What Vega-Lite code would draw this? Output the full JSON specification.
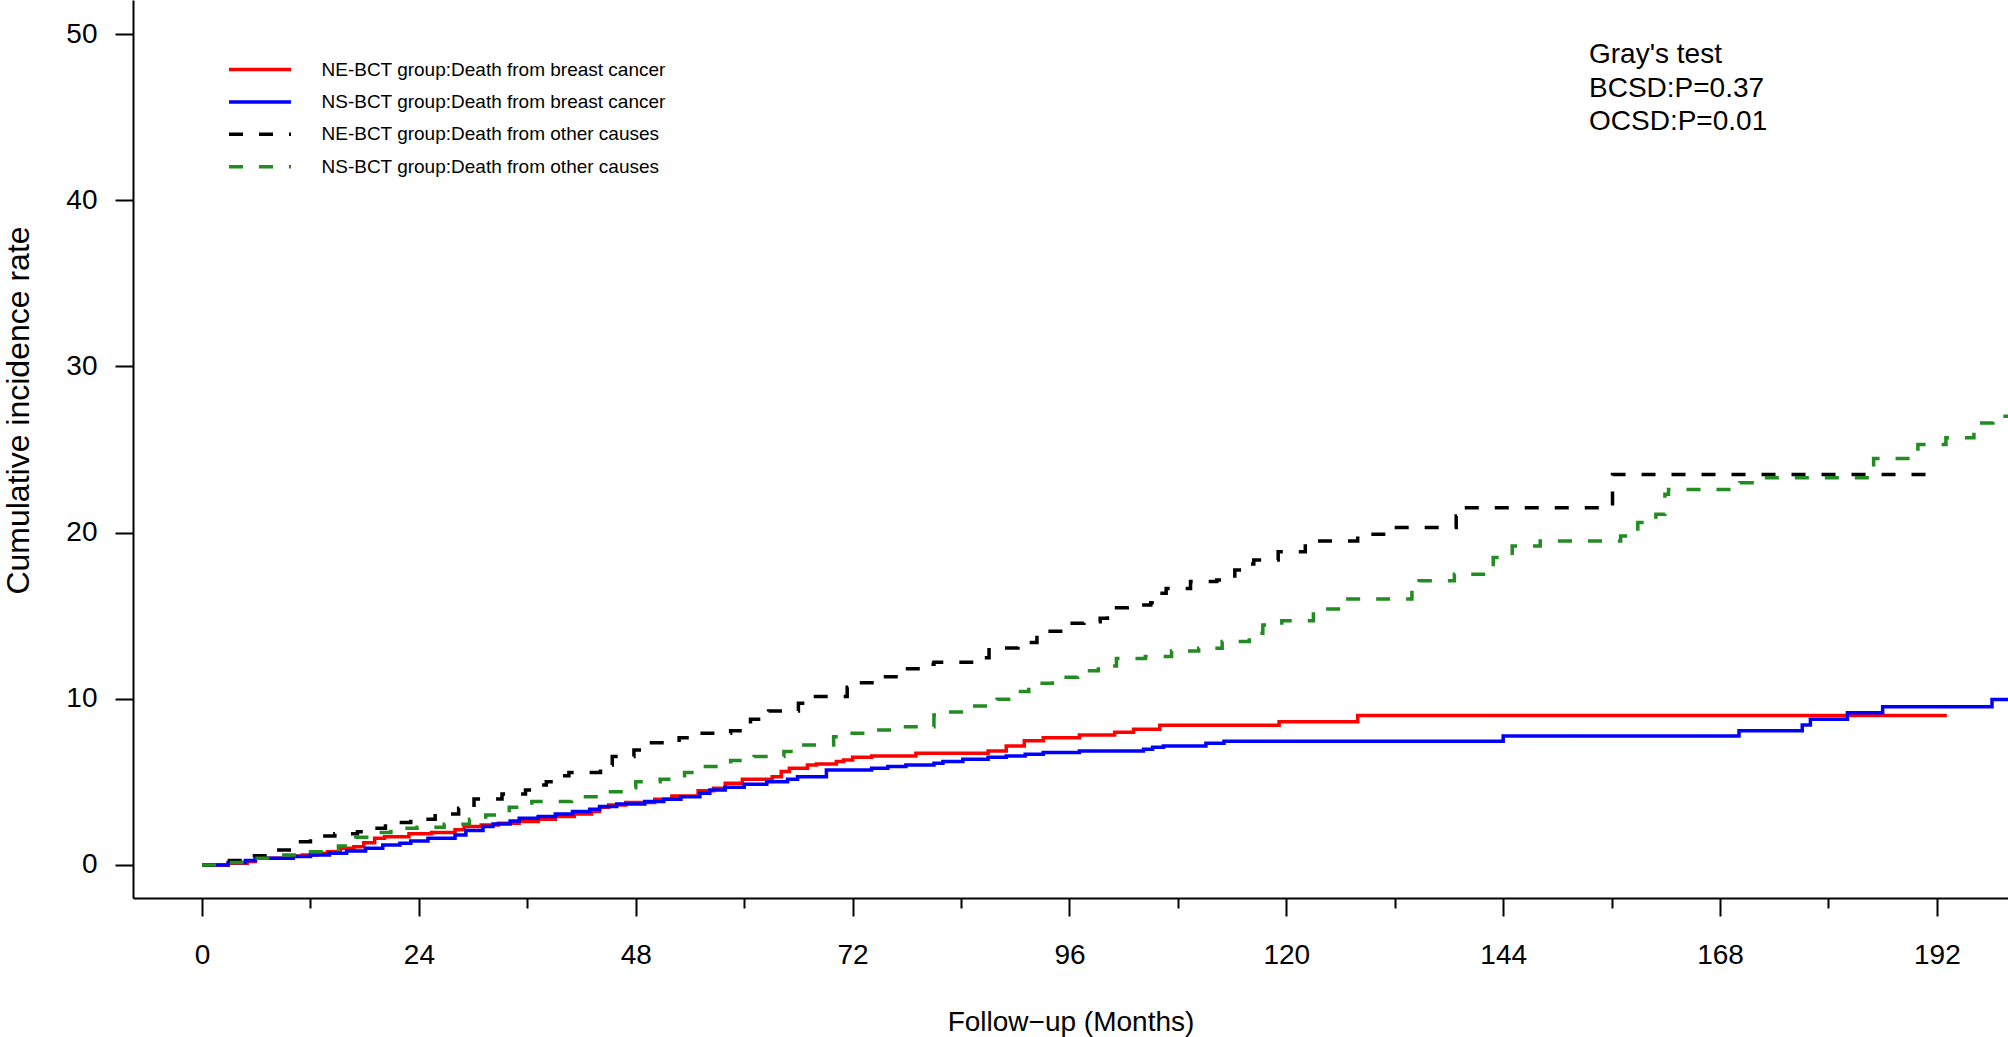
{
  "$schema": "https://vega.github.io/schema/vega-lite/v6.json",
  "description": "Cumulative incidence of death from breast cancer and from other causes, NE-BCT vs NS-BCT groups.",
  "width": 1875,
  "height": 898,
  "autosize": {"type": "none"},
  "padding": {"left": 133, "top": 0, "right": 0, "bottom": 139},
  "background": "white",
  "config": {
    "view": {"stroke": null},
    "font": "Liberation Sans",
    "axis": {
      "grid": false,
      "domainColor": "black",
      "domainWidth": 2,
      "tickColor": "black",
      "tickWidth": 2,
      "labelColor": "black",
      "labelFontSize": 28,
      "labelFont": "Liberation Sans",
      "titleColor": "black",
      "titleFontSize": 28,
      "titleFont": "Liberation Sans",
      "titleFontWeight": "normal",
      "labelFlush": false,
      "labelOverlap": false
    }
  },
  "layer": [
    {
      "data": {
        "values": [
          {"group": "NE-BCT group:Death from breast cancer", "month": 0, "rate": 0},
          {"group": "NE-BCT group:Death from breast cancer", "month": 2.9, "rate": 0.1},
          {"group": "NE-BCT group:Death from breast cancer", "month": 5.0, "rate": 0.2},
          {"group": "NE-BCT group:Death from breast cancer", "month": 5.9, "rate": 0.4},
          {"group": "NE-BCT group:Death from breast cancer", "month": 10.1, "rate": 0.54},
          {"group": "NE-BCT group:Death from breast cancer", "month": 11.1, "rate": 0.6},
          {"group": "NE-BCT group:Death from breast cancer", "month": 12.8, "rate": 0.7},
          {"group": "NE-BCT group:Death from breast cancer", "month": 13.9, "rate": 0.8},
          {"group": "NE-BCT group:Death from breast cancer", "month": 15.3, "rate": 1.0},
          {"group": "NE-BCT group:Death from breast cancer", "month": 16.8, "rate": 1.1},
          {"group": "NE-BCT group:Death from breast cancer", "month": 17.9, "rate": 1.34},
          {"group": "NE-BCT group:Death from breast cancer", "month": 19.1, "rate": 1.6},
          {"group": "NE-BCT group:Death from breast cancer", "month": 20.2, "rate": 1.7},
          {"group": "NE-BCT group:Death from breast cancer", "month": 22.9, "rate": 1.87},
          {"group": "NE-BCT group:Death from breast cancer", "month": 25.4, "rate": 1.95},
          {"group": "NE-BCT group:Death from breast cancer", "month": 28.0, "rate": 2.11},
          {"group": "NE-BCT group:Death from breast cancer", "month": 29.0, "rate": 2.31},
          {"group": "NE-BCT group:Death from breast cancer", "month": 30.9, "rate": 2.41},
          {"group": "NE-BCT group:Death from breast cancer", "month": 32.8, "rate": 2.51},
          {"group": "NE-BCT group:Death from breast cancer", "month": 35.1, "rate": 2.61},
          {"group": "NE-BCT group:Death from breast cancer", "month": 37.2, "rate": 2.75},
          {"group": "NE-BCT group:Death from breast cancer", "month": 39.1, "rate": 2.91},
          {"group": "NE-BCT group:Death from breast cancer", "month": 41.2, "rate": 3.07},
          {"group": "NE-BCT group:Death from breast cancer", "month": 43.1, "rate": 3.21},
          {"group": "NE-BCT group:Death from breast cancer", "month": 44.0, "rate": 3.47},
          {"group": "NE-BCT group:Death from breast cancer", "month": 45.0, "rate": 3.61},
          {"group": "NE-BCT group:Death from breast cancer", "month": 46.9, "rate": 3.75},
          {"group": "NE-BCT group:Death from breast cancer", "month": 50.1, "rate": 3.95},
          {"group": "NE-BCT group:Death from breast cancer", "month": 52.0, "rate": 4.15},
          {"group": "NE-BCT group:Death from breast cancer", "month": 54.9, "rate": 4.47},
          {"group": "NE-BCT group:Death from breast cancer", "month": 56.6, "rate": 4.61},
          {"group": "NE-BCT group:Death from breast cancer", "month": 57.9, "rate": 4.91},
          {"group": "NE-BCT group:Death from breast cancer", "month": 59.8, "rate": 5.15},
          {"group": "NE-BCT group:Death from breast cancer", "month": 63.1, "rate": 5.31},
          {"group": "NE-BCT group:Death from breast cancer", "month": 64.1, "rate": 5.62},
          {"group": "NE-BCT group:Death from breast cancer", "month": 65.0, "rate": 5.82},
          {"group": "NE-BCT group:Death from breast cancer", "month": 67.0, "rate": 6.02},
          {"group": "NE-BCT group:Death from breast cancer", "month": 68.0, "rate": 6.08},
          {"group": "NE-BCT group:Death from breast cancer", "month": 70.2, "rate": 6.22},
          {"group": "NE-BCT group:Death from breast cancer", "month": 71.0, "rate": 6.32},
          {"group": "NE-BCT group:Death from breast cancer", "month": 72.0, "rate": 6.48},
          {"group": "NE-BCT group:Death from breast cancer", "month": 74.1, "rate": 6.56},
          {"group": "NE-BCT group:Death from breast cancer", "month": 79.0, "rate": 6.72},
          {"group": "NE-BCT group:Death from breast cancer", "month": 87.0, "rate": 6.86},
          {"group": "NE-BCT group:Death from breast cancer", "month": 89.0, "rate": 7.16},
          {"group": "NE-BCT group:Death from breast cancer", "month": 91.0, "rate": 7.48},
          {"group": "NE-BCT group:Death from breast cancer", "month": 93.1, "rate": 7.66},
          {"group": "NE-BCT group:Death from breast cancer", "month": 97.1, "rate": 7.82},
          {"group": "NE-BCT group:Death from breast cancer", "month": 101.0, "rate": 7.98},
          {"group": "NE-BCT group:Death from breast cancer", "month": 103.1, "rate": 8.16},
          {"group": "NE-BCT group:Death from breast cancer", "month": 106.0, "rate": 8.4},
          {"group": "NE-BCT group:Death from breast cancer", "month": 119.2, "rate": 8.62},
          {"group": "NE-BCT group:Death from breast cancer", "month": 127.9, "rate": 9.0},
          {"group": "NE-BCT group:Death from breast cancer", "month": 193.1, "rate": 9.0},

          {"group": "NS-BCT group:Death from breast cancer", "month": 0, "rate": 0},
          {"group": "NS-BCT group:Death from breast cancer", "month": 2.9, "rate": 0.14},
          {"group": "NS-BCT group:Death from breast cancer", "month": 4.8, "rate": 0.26},
          {"group": "NS-BCT group:Death from breast cancer", "month": 5.9, "rate": 0.4},
          {"group": "NS-BCT group:Death from breast cancer", "month": 10.1, "rate": 0.5},
          {"group": "NS-BCT group:Death from breast cancer", "month": 12.0, "rate": 0.6},
          {"group": "NS-BCT group:Death from breast cancer", "month": 14.1, "rate": 0.7},
          {"group": "NS-BCT group:Death from breast cancer", "month": 16.0, "rate": 0.84},
          {"group": "NS-BCT group:Death from breast cancer", "month": 18.1, "rate": 1.0},
          {"group": "NS-BCT group:Death from breast cancer", "month": 20.0, "rate": 1.2},
          {"group": "NS-BCT group:Death from breast cancer", "month": 21.9, "rate": 1.3},
          {"group": "NS-BCT group:Death from breast cancer", "month": 23.1, "rate": 1.44},
          {"group": "NS-BCT group:Death from breast cancer", "month": 25.0, "rate": 1.6},
          {"group": "NS-BCT group:Death from breast cancer", "month": 28.0, "rate": 1.8},
          {"group": "NS-BCT group:Death from breast cancer", "month": 29.2, "rate": 2.07},
          {"group": "NS-BCT group:Death from breast cancer", "month": 31.1, "rate": 2.31},
          {"group": "NS-BCT group:Death from breast cancer", "month": 32.2, "rate": 2.47},
          {"group": "NS-BCT group:Death from breast cancer", "month": 34.1, "rate": 2.65},
          {"group": "NS-BCT group:Death from breast cancer", "month": 35.1, "rate": 2.81},
          {"group": "NS-BCT group:Death from breast cancer", "month": 37.2, "rate": 2.91},
          {"group": "NS-BCT group:Death from breast cancer", "month": 39.1, "rate": 3.07},
          {"group": "NS-BCT group:Death from breast cancer", "month": 41.0, "rate": 3.21},
          {"group": "NS-BCT group:Death from breast cancer", "month": 42.9, "rate": 3.35},
          {"group": "NS-BCT group:Death from breast cancer", "month": 44.0, "rate": 3.51},
          {"group": "NS-BCT group:Death from breast cancer", "month": 45.9, "rate": 3.67},
          {"group": "NS-BCT group:Death from breast cancer", "month": 49.0, "rate": 3.81},
          {"group": "NS-BCT group:Death from breast cancer", "month": 51.1, "rate": 3.95},
          {"group": "NS-BCT group:Death from breast cancer", "month": 53.0, "rate": 4.11},
          {"group": "NS-BCT group:Death from breast cancer", "month": 55.1, "rate": 4.31},
          {"group": "NS-BCT group:Death from breast cancer", "month": 56.2, "rate": 4.51},
          {"group": "NS-BCT group:Death from breast cancer", "month": 57.9, "rate": 4.67},
          {"group": "NS-BCT group:Death from breast cancer", "month": 60.0, "rate": 4.85},
          {"group": "NS-BCT group:Death from breast cancer", "month": 62.5, "rate": 5.0},
          {"group": "NS-BCT group:Death from breast cancer", "month": 64.8, "rate": 5.15},
          {"group": "NS-BCT group:Death from breast cancer", "month": 65.9, "rate": 5.31},
          {"group": "NS-BCT group:Death from breast cancer", "month": 69.1, "rate": 5.72},
          {"group": "NS-BCT group:Death from breast cancer", "month": 74.1, "rate": 5.82},
          {"group": "NS-BCT group:Death from breast cancer", "month": 75.9, "rate": 5.92},
          {"group": "NS-BCT group:Death from breast cancer", "month": 77.9, "rate": 6.02},
          {"group": "NS-BCT group:Death from breast cancer", "month": 81.0, "rate": 6.12},
          {"group": "NS-BCT group:Death from breast cancer", "month": 82.0, "rate": 6.22},
          {"group": "NS-BCT group:Death from breast cancer", "month": 84.2, "rate": 6.36},
          {"group": "NS-BCT group:Death from breast cancer", "month": 87.0, "rate": 6.48},
          {"group": "NS-BCT group:Death from breast cancer", "month": 89.0, "rate": 6.56},
          {"group": "NS-BCT group:Death from breast cancer", "month": 91.1, "rate": 6.66},
          {"group": "NS-BCT group:Death from breast cancer", "month": 93.1, "rate": 6.76},
          {"group": "NS-BCT group:Death from breast cancer", "month": 97.1, "rate": 6.86},
          {"group": "NS-BCT group:Death from breast cancer", "month": 104.2, "rate": 6.96},
          {"group": "NS-BCT group:Death from breast cancer", "month": 105.2, "rate": 7.08},
          {"group": "NS-BCT group:Death from breast cancer", "month": 106.4, "rate": 7.16},
          {"group": "NS-BCT group:Death from breast cancer", "month": 111.1, "rate": 7.32},
          {"group": "NS-BCT group:Death from breast cancer", "month": 113.1, "rate": 7.45},
          {"group": "NS-BCT group:Death from breast cancer", "month": 144.0, "rate": 7.76},
          {"group": "NS-BCT group:Death from breast cancer", "month": 170.1, "rate": 8.08},
          {"group": "NS-BCT group:Death from breast cancer", "month": 177.1, "rate": 8.42},
          {"group": "NS-BCT group:Death from breast cancer", "month": 178.0, "rate": 8.76},
          {"group": "NS-BCT group:Death from breast cancer", "month": 182.1, "rate": 9.16},
          {"group": "NS-BCT group:Death from breast cancer", "month": 186.0, "rate": 9.52},
          {"group": "NS-BCT group:Death from breast cancer", "month": 198.1, "rate": 9.96},
          {"group": "NS-BCT group:Death from breast cancer", "month": 200.0, "rate": 9.96},

          {"group": "NE-BCT group:Death from other causes", "month": 0, "rate": 0},
          {"group": "NE-BCT group:Death from other causes", "month": 1.9, "rate": 0.26},
          {"group": "NE-BCT group:Death from other causes", "month": 5.8, "rate": 0.56},
          {"group": "NE-BCT group:Death from other causes", "month": 7.4, "rate": 0.9},
          {"group": "NE-BCT group:Death from other causes", "month": 10.9, "rate": 1.4},
          {"group": "NE-BCT group:Death from other causes", "month": 12.0, "rate": 1.74},
          {"group": "NE-BCT group:Death from other causes", "month": 14.7, "rate": 1.87},
          {"group": "NE-BCT group:Death from other causes", "month": 17.2, "rate": 2.0},
          {"group": "NE-BCT group:Death from other causes", "month": 17.9, "rate": 2.21},
          {"group": "NE-BCT group:Death from other causes", "month": 20.3, "rate": 2.55},
          {"group": "NE-BCT group:Death from other causes", "month": 23.1, "rate": 2.75},
          {"group": "NE-BCT group:Death from other causes", "month": 25.8, "rate": 3.07},
          {"group": "NE-BCT group:Death from other causes", "month": 28.4, "rate": 3.41},
          {"group": "NE-BCT group:Death from other causes", "month": 30.1, "rate": 3.97},
          {"group": "NE-BCT group:Death from other causes", "month": 33.2, "rate": 4.27},
          {"group": "NE-BCT group:Death from other causes", "month": 35.8, "rate": 4.51},
          {"group": "NE-BCT group:Death from other causes", "month": 37.2, "rate": 4.81},
          {"group": "NE-BCT group:Death from other causes", "month": 38.1, "rate": 5.01},
          {"group": "NE-BCT group:Death from other causes", "month": 39.0, "rate": 5.36},
          {"group": "NE-BCT group:Death from other causes", "month": 40.6, "rate": 5.56},
          {"group": "NE-BCT group:Death from other causes", "month": 44.1, "rate": 6.02},
          {"group": "NE-BCT group:Death from other causes", "month": 45.4, "rate": 6.52},
          {"group": "NE-BCT group:Death from other causes", "month": 47.8, "rate": 6.92},
          {"group": "NE-BCT group:Death from other causes", "month": 49.4, "rate": 7.36},
          {"group": "NE-BCT group:Death from other causes", "month": 52.8, "rate": 7.66},
          {"group": "NE-BCT group:Death from other causes", "month": 54.4, "rate": 7.92},
          {"group": "NE-BCT group:Death from other causes", "month": 58.5, "rate": 8.08},
          {"group": "NE-BCT group:Death from other causes", "month": 60.7, "rate": 8.77},
          {"group": "NE-BCT group:Death from other causes", "month": 62.7, "rate": 9.27},
          {"group": "NE-BCT group:Death from other causes", "month": 66.0, "rate": 9.73},
          {"group": "NE-BCT group:Death from other causes", "month": 67.4, "rate": 10.13},
          {"group": "NE-BCT group:Death from other causes", "month": 71.4, "rate": 10.7},
          {"group": "NE-BCT group:Death from other causes", "month": 72.5, "rate": 10.97},
          {"group": "NE-BCT group:Death from other causes", "month": 75.3, "rate": 11.33},
          {"group": "NE-BCT group:Death from other causes", "month": 77.1, "rate": 11.81},
          {"group": "NE-BCT group:Death from other causes", "month": 79.7, "rate": 12.07},
          {"group": "NE-BCT group:Death from other causes", "month": 81.0, "rate": 12.2},
          {"group": "NE-BCT group:Death from other causes", "month": 85.4, "rate": 12.47},
          {"group": "NE-BCT group:Death from other causes", "month": 87.1, "rate": 13.06},
          {"group": "NE-BCT group:Death from other causes", "month": 90.3, "rate": 13.38},
          {"group": "NE-BCT group:Death from other causes", "month": 92.4, "rate": 14.06},
          {"group": "NE-BCT group:Death from other causes", "month": 96.0, "rate": 14.54},
          {"group": "NE-BCT group:Death from other causes", "month": 97.6, "rate": 14.64},
          {"group": "NE-BCT group:Death from other causes", "month": 99.4, "rate": 14.84},
          {"group": "NE-BCT group:Death from other causes", "month": 100.2, "rate": 15.04},
          {"group": "NE-BCT group:Death from other causes", "month": 101.0, "rate": 15.48},
          {"group": "NE-BCT group:Death from other causes", "month": 102.4, "rate": 15.64},
          {"group": "NE-BCT group:Death from other causes", "month": 105.0, "rate": 15.78},
          {"group": "NE-BCT group:Death from other causes", "month": 106.0, "rate": 16.35},
          {"group": "NE-BCT group:Death from other causes", "month": 106.7, "rate": 16.63},
          {"group": "NE-BCT group:Death from other causes", "month": 109.4, "rate": 17.05},
          {"group": "NE-BCT group:Death from other causes", "month": 112.3, "rate": 17.15},
          {"group": "NE-BCT group:Death from other causes", "month": 113.1, "rate": 17.39},
          {"group": "NE-BCT group:Death from other causes", "month": 114.3, "rate": 17.75},
          {"group": "NE-BCT group:Death from other causes", "month": 115.1, "rate": 18.11},
          {"group": "NE-BCT group:Death from other causes", "month": 116.4, "rate": 18.35},
          {"group": "NE-BCT group:Death from other causes", "month": 119.1, "rate": 18.85},
          {"group": "NE-BCT group:Death from other causes", "month": 122.1, "rate": 19.5},
          {"group": "NE-BCT group:Death from other causes", "month": 127.9, "rate": 19.9},
          {"group": "NE-BCT group:Death from other causes", "month": 131.0, "rate": 20.3},
          {"group": "NE-BCT group:Death from other causes", "month": 138.8, "rate": 21.0},
          {"group": "NE-BCT group:Death from other causes", "month": 139.5, "rate": 21.5},
          {"group": "NE-BCT group:Death from other causes", "month": 156.1, "rate": 23.5},
          {"group": "NE-BCT group:Death from other causes", "month": 192.5, "rate": 23.5},

          {"group": "NS-BCT group:Death from other causes", "month": 0, "rate": 0},
          {"group": "NS-BCT group:Death from other causes", "month": 1.9, "rate": 0.14},
          {"group": "NS-BCT group:Death from other causes", "month": 5.8, "rate": 0.4},
          {"group": "NS-BCT group:Death from other causes", "month": 7.8, "rate": 0.6},
          {"group": "NS-BCT group:Death from other causes", "month": 11.55, "rate": 0.8},
          {"group": "NS-BCT group:Death from other causes", "month": 15.1, "rate": 1.14},
          {"group": "NS-BCT group:Death from other causes", "month": 17.0, "rate": 1.66},
          {"group": "NS-BCT group:Death from other causes", "month": 18.9, "rate": 1.95},
          {"group": "NS-BCT group:Death from other causes", "month": 20.9, "rate": 2.21},
          {"group": "NS-BCT group:Death from other causes", "month": 23.8, "rate": 2.27},
          {"group": "NS-BCT group:Death from other causes", "month": 26.8, "rate": 2.45},
          {"group": "NS-BCT group:Death from other causes", "month": 29.6, "rate": 2.75},
          {"group": "NS-BCT group:Death from other causes", "month": 31.4, "rate": 3.01},
          {"group": "NS-BCT group:Death from other causes", "month": 34.0, "rate": 3.47},
          {"group": "NS-BCT group:Death from other causes", "month": 36.5, "rate": 3.81},
          {"group": "NS-BCT group:Death from other causes", "month": 40.9, "rate": 4.11},
          {"group": "NS-BCT group:Death from other causes", "month": 44.2, "rate": 4.41},
          {"group": "NS-BCT group:Death from other causes", "month": 47.1, "rate": 4.65},
          {"group": "NS-BCT group:Death from other causes", "month": 48.0, "rate": 5.01},
          {"group": "NS-BCT group:Death from other causes", "month": 50.7, "rate": 5.15},
          {"group": "NS-BCT group:Death from other causes", "month": 53.4, "rate": 5.56},
          {"group": "NS-BCT group:Death from other causes", "month": 55.1, "rate": 5.92},
          {"group": "NS-BCT group:Death from other causes", "month": 58.5, "rate": 6.28},
          {"group": "NS-BCT group:Death from other causes", "month": 61.1, "rate": 6.52},
          {"group": "NS-BCT group:Death from other causes", "month": 64.4, "rate": 6.82},
          {"group": "NS-BCT group:Death from other causes", "month": 66.4, "rate": 7.22},
          {"group": "NS-BCT group:Death from other causes", "month": 69.9, "rate": 7.72},
          {"group": "NS-BCT group:Death from other causes", "month": 71.4, "rate": 7.92},
          {"group": "NS-BCT group:Death from other causes", "month": 73.9, "rate": 8.12},
          {"group": "NS-BCT group:Death from other causes", "month": 77.1, "rate": 8.32},
          {"group": "NS-BCT group:Death from other causes", "month": 81.0, "rate": 9.03},
          {"group": "NS-BCT group:Death from other causes", "month": 82.0, "rate": 9.21},
          {"group": "NS-BCT group:Death from other causes", "month": 84.6, "rate": 9.57},
          {"group": "NS-BCT group:Death from other causes", "month": 88.0, "rate": 9.97},
          {"group": "NS-BCT group:Death from other causes", "month": 89.6, "rate": 10.43},
          {"group": "NS-BCT group:Death from other causes", "month": 91.5, "rate": 10.93},
          {"group": "NS-BCT group:Death from other causes", "month": 94.1, "rate": 11.29},
          {"group": "NS-BCT group:Death from other causes", "month": 96.9, "rate": 11.69},
          {"group": "NS-BCT group:Death from other causes", "month": 99.2, "rate": 11.97},
          {"group": "NS-BCT group:Death from other causes", "month": 101.2, "rate": 12.43},
          {"group": "NS-BCT group:Death from other causes", "month": 104.4, "rate": 12.54},
          {"group": "NS-BCT group:Death from other causes", "month": 107.3, "rate": 12.88},
          {"group": "NS-BCT group:Death from other causes", "month": 110.3, "rate": 13.04},
          {"group": "NS-BCT group:Death from other causes", "month": 112.9, "rate": 13.44},
          {"group": "NS-BCT group:Death from other causes", "month": 115.9, "rate": 13.94},
          {"group": "NS-BCT group:Death from other causes", "month": 117.4, "rate": 14.44},
          {"group": "NS-BCT group:Death from other causes", "month": 119.5, "rate": 14.7},
          {"group": "NS-BCT group:Death from other causes", "month": 123.0, "rate": 15.4},
          {"group": "NS-BCT group:Death from other causes", "month": 126.0, "rate": 16.0},
          {"group": "NS-BCT group:Death from other causes", "month": 133.9, "rate": 16.6},
          {"group": "NS-BCT group:Death from other causes", "month": 134.7, "rate": 17.1},
          {"group": "NS-BCT group:Death from other causes", "month": 138.6, "rate": 17.5},
          {"group": "NS-BCT group:Death from other causes", "month": 142.9, "rate": 18.5},
          {"group": "NS-BCT group:Death from other causes", "month": 145.0, "rate": 19.2},
          {"group": "NS-BCT group:Death from other causes", "month": 148.1, "rate": 19.5},
          {"group": "NS-BCT group:Death from other causes", "month": 157.0, "rate": 19.8},
          {"group": "NS-BCT group:Death from other causes", "month": 158.9, "rate": 20.6},
          {"group": "NS-BCT group:Death from other causes", "month": 160.9, "rate": 21.1},
          {"group": "NS-BCT group:Death from other causes", "month": 161.9, "rate": 22.3},
          {"group": "NS-BCT group:Death from other causes", "month": 162.3, "rate": 22.6},
          {"group": "NS-BCT group:Death from other causes", "month": 170.2, "rate": 23.0},
          {"group": "NS-BCT group:Death from other causes", "month": 172.2, "rate": 23.3},
          {"group": "NS-BCT group:Death from other causes", "month": 184.6, "rate": 23.75},
          {"group": "NS-BCT group:Death from other causes", "month": 185.0, "rate": 24.46},
          {"group": "NS-BCT group:Death from other causes", "month": 189.9, "rate": 25.3},
          {"group": "NS-BCT group:Death from other causes", "month": 193.0, "rate": 25.7},
          {"group": "NS-BCT group:Death from other causes", "month": 196.1, "rate": 26.6},
          {"group": "NS-BCT group:Death from other causes", "month": 198.2, "rate": 27.0},
          {"group": "NS-BCT group:Death from other causes", "month": 200.0, "rate": 27.0}
        ]
      },
      "mark": {"type": "line", "interpolate": "step-after", "strokeWidth": 3.5, "strokeCap": "butt", "clip": true},
      "encoding": {
        "x": {
          "field": "month",
          "type": "quantitative",
          "scale": {"domain": [-7.64, 199.87], "nice": false, "zero": false},
          "axis": {
            "title": "Follow−up (Months)",
            "values": [0, 12, 24, 36, 48, 60, 72, 84, 96, 108, 120, 132, 144, 156, 168, 180, 192],
            "tickSize": {"condition": {"test": "datum.value % 24 === 0", "value": 18}, "value": 10},
            "labelExpr": "datum.value % 24 === 0 ? datum.label : ''",
            "format": "d",
            "labelPadding": 25,
            "titleY": 124,
            "titleBaseline": "middle"
          }
        },
        "y": {
          "field": "rate",
          "type": "quantitative",
          "scale": {"domain": [-1.99, 52.05], "nice": false, "zero": false},
          "axis": {
            "title": "Cumulative incidence rate",
            "values": [0, 10, 20, 30, 40, 50],
            "tickSize": 18,
            "labelPadding": 18,
            "titleFontSize": 32,
            "titleX": -115,
            "titleY": 410,
            "titleAlign": "center",
            "titleBaseline": "middle"
          }
        },
        "color": {
          "field": "group",
          "type": "nominal",
          "scale": {
            "domain": ["NE-BCT group:Death from breast cancer", "NS-BCT group:Death from breast cancer", "NE-BCT group:Death from other causes", "NS-BCT group:Death from other causes"],
            "range": ["#ff0000", "#0000ff", "#000000", "#228b22"]
          },
          "legend": {
            "title": null,
            "orient": "none",
            "legendX": 114.5,
            "legendY": 57,
            "padding": 0,
            "symbolType": "M-3,0H3",
            "symbolSize": 427,
            "symbolStrokeWidth": 3.5,
            "labelFontSize": 19,
            "labelFont": "Liberation Sans",
            "labelColor": "black",
            "labelOffset": 49,
            "labelLimit": 0,
            "rowPadding": 9.4
          }
        },
        "strokeDash": {
          "field": "group",
          "type": "nominal",
          "scale": {
            "domain": ["NE-BCT group:Death from breast cancer", "NS-BCT group:Death from breast cancer", "NE-BCT group:Death from other causes", "NS-BCT group:Death from other causes"],
            "range": [[1, 0], [1, 0], [14, 16], [14, 16]]
          },
          "legend": {
            "title": null,
            "orient": "none",
            "legendX": 114.5,
            "legendY": 57,
            "padding": 0,
            "symbolType": "M-3,0H3",
            "symbolSize": 427,
            "symbolStrokeWidth": 3.5,
            "labelFontSize": 19,
            "labelFont": "Liberation Sans",
            "labelColor": "black",
            "labelOffset": 49,
            "labelLimit": 0,
            "rowPadding": 9.4
          }
        }
      }
    },
    {
      "data": {"values": [{}]},
      "mark": {
        "type": "text",
        "text": ["Gray's test", "BCSD:P=0.37", "OCSD:P=0.01"],
        "align": "left",
        "baseline": "alphabetic",
        "fontSize": 28,
        "font": "Liberation Sans",
        "lineHeight": 33.5,
        "color": "black"
      },
      "encoding": {
        "x": {"datum": 153.5},
        "y": {"datum": 48.25}
      }
    }
  ]
}
